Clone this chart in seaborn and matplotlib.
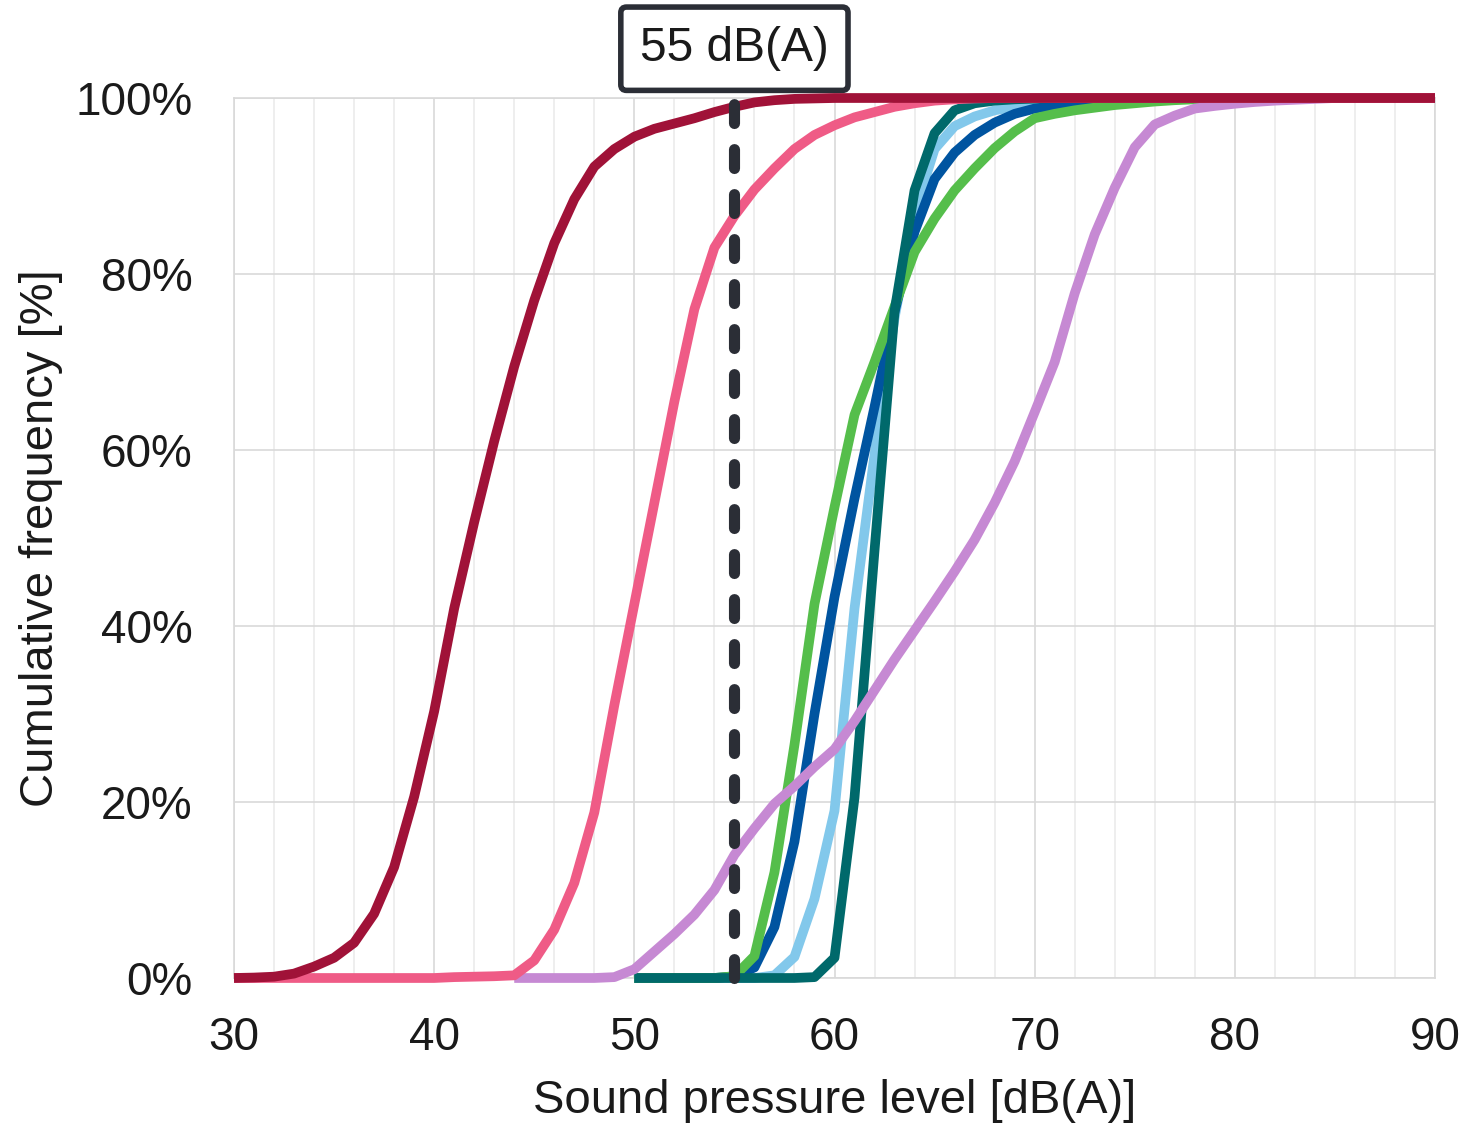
import numpy as np
import pandas as pd
import matplotlib
matplotlib.use("Agg")
import matplotlib.pyplot as plt
import seaborn as sns

# ---------------- data ----------------
x_dark_red = list(range(30, 91))
dark_red = [0, 0.05, 0.15, 0.5, 1.3, 2.3, 4.0, 7.3, 12.6, 20.6,
            30.3, 42.0, 51.8, 61.0, 69.5, 77.0, 83.5, 88.5, 92.2, 94.2,
            95.6, 96.5, 97.1, 97.7, 98.4, 99.0, 99.5, 99.75, 99.9, 99.95] + [100] * 31

x_pink = list(range(30, 91))
pink = [0] * 11 + [0.1, 0.15, 0.2, 0.3, 2.0, 5.5, 10.8, 18.8, 31.0,
                   42.5, 54.0, 65.5, 76.0, 83.0, 86.6, 89.6, 92.0, 94.2, 95.8,
                   96.9, 97.8, 98.4, 99.0, 99.4, 99.7, 99.85, 99.95] + [100] * 23

x_purple = list(range(44, 91))
purple = [0, 0, 0, 0, 0, 0.1, 1.0, 3.0, 5.0, 7.2,
          10.0, 14.0, 17.0, 19.8, 21.8, 24.0, 26.0, 29.2, 32.7, 36.2,
          39.5, 42.8, 46.2, 49.8, 54.0, 58.7, 64.3, 70.0, 77.8, 84.5,
          89.8, 94.4, 97.0, 98.0, 98.8, 99.1, 99.35, 99.55, 99.7, 99.8,
          99.9] + [100] * 6

x_teal = list(range(50, 91))
teal = [0] * 9 + [0.1, 2.3, 20.5, 48.6, 75.8, 89.5, 96.0, 98.6, 99.4, 99.7, 99.85,
                  99.93] + [100] * 20

x_light_blue = list(range(50, 91))
light_blue = [0] * 7 + [0.3, 2.4, 9.0, 19.0, 42.0, 59.5, 75.0, 87.0, 94.2, 96.8, 97.9,
                        98.6, 99.0, 99.3, 99.5, 99.65, 99.75, 99.85, 99.9] + [100] * 15

x_dark_blue = list(range(50, 91))
dark_blue = [0] * 5 + [0.2, 1.2, 5.8, 15.5, 30.0, 43.3, 54.5, 64.9, 75.7, 84.8,
                       90.8, 93.8, 95.8, 97.2, 98.2, 98.8, 99.1, 99.4, 99.6, 99.75,
                       99.85, 99.9] + [100] * 14

x_green = list(range(50, 91))
green = [0] * 5 + [0.2, 2.5, 12.0, 26.5, 42.5, 53.5, 64.0, 70.0, 76.3, 82.5,
                   86.3, 89.5, 92.0, 94.3, 96.2, 97.7, 98.2, 98.6, 98.9, 99.2,
                   99.4, 99.6, 99.75, 99.85, 99.9] + [100] * 11

threshold = 55
threshold_label = "55 dB(A)"
x_ticks = [30, 40, 50, 60, 70, 80, 90]
y_ticks = [0, 20, 40, 60, 80, 100]
x_label = "Sound pressure level [dB(A)]"
y_label = "Cumulative frequency [%]"

series = [
    ("light_blue", x_light_blue, light_blue, "#82C8EB"),
    ("dark_blue", x_dark_blue, dark_blue, "#0054A0"),
    ("green", x_green, green, "#55BE4B"),
    ("teal", x_teal, teal, "#00696B"),
    ("purple", x_purple, purple, "#C689D3"),
    ("pink", x_pink, pink, "#EF5B86"),
    ("dark_red", x_dark_red, dark_red, "#A01238"),
]

frames = []
for name, xs, ys, _ in series:
    frames.append(pd.DataFrame({"spl": xs, "freq": ys, "series": name}))
df = pd.concat(frames, ignore_index=True)
palette = {name: c for name, _, _, c in series}

# ---------------- style ----------------
sns.set_theme(style="whitegrid")
plt.rcParams["font.family"] = ["Liberation Sans", "DejaVu Sans"]
text_color = "#1a1a1a"

fig = plt.figure(figsize=(14.63, 11.25), dpi=100)
ax = fig.add_axes([234 / 1463, 1 - 978 / 1125, (1435 - 234) / 1463, (978 - 98) / 1125])

sns.lineplot(data=df, x="spl", y="freq", hue="series",
             hue_order=[s[0] for s in series], palette=palette,
             linewidth=7, legend=False, ax=ax, estimator=None, sort=True)
for i, ln in enumerate(ax.get_lines()):
    ln.set_clip_on(False)
    ln.set_solid_capstyle("butt")
    ln.set_solid_joinstyle("round")
    ln.set_zorder(3 + i * 0.01)

ax.plot([threshold, threshold], [0, 100], color="#2B2E36", lw=8,
        linestyle=(0, (1.7, 2.35)), dash_capstyle="round", clip_on=False, zorder=10)

ax.text(threshold, 105.6, threshold_label, ha="center", va="center", fontsize=34.5,
        color=text_color,
        bbox=dict(boxstyle="round,pad=0.4,rounding_size=0.12", fc="white",
                  ec="#2B2E36", lw=4),
        clip_on=False)

ax.set_xlim(30, 90)
ax.set_ylim(0, 100)
ax.set_xticks(x_ticks)
ax.set_xticks(np.arange(30, 91, 2), minor=True)
ax.set_yticks(y_ticks)
ax.set_yticklabels([f"{v}%" for v in y_ticks])
ax.grid(which="major", color="#D9D9D9", lw=1.2)
ax.grid(which="minor", axis="x", color="#EBEBEB", lw=1.2)
ax.grid(which="minor", axis="y", visible=False)
ax.tick_params(axis="both", which="both", length=0, labelsize=33, labelcolor=text_color)
ax.tick_params(axis="y", pad=30)
ax.tick_params(axis="x", pad=27)
for sp in ax.spines.values():
    sp.set_color("#D9D9D9")
    sp.set_linewidth(1.2)
    sp.set_zorder(1)

ax.set_xlabel(x_label, fontsize=34, color=text_color, labelpad=14)
ax.set_ylabel(y_label, fontsize=34, color=text_color, labelpad=9)

fig.savefig("out.png", dpi=100, facecolor="white")
